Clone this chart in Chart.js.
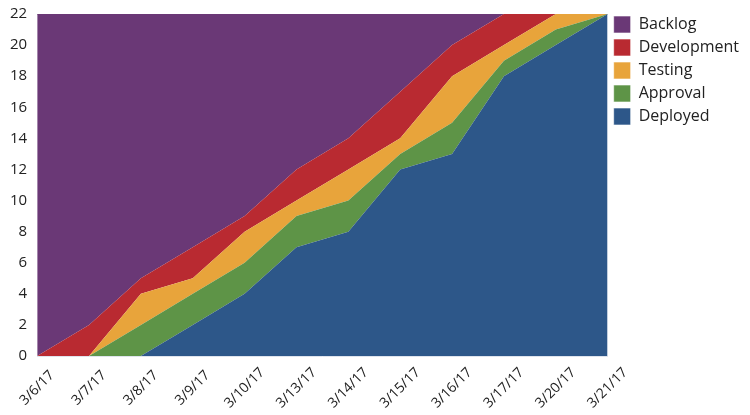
<!DOCTYPE html>
<html>
<head>
<meta charset="utf-8">
<script src="https://cdn.jsdelivr.net/npm/chart.js@4/dist/chart.umd.min.js"></script>
<style>
  html, body { margin: 0; padding: 0; background: #fff; }
  #wrap { width: 750px; height: 415px; }
</style>
</head>
<body>
<div id="wrap"><canvas id="c" width="750" height="415"></canvas></div>
<script>
// Cumulative flow: work items per stage on each day
const dates = ['3/6/17','3/7/17','3/8/17','3/9/17','3/10/17','3/13/17','3/14/17','3/15/17','3/16/17','3/17/17','3/20/17','3/21/17'];
const deployed    = [0, 0, 0, 2, 4, 7, 8, 12, 13, 18, 20, 22];
const approval    = [0, 0, 2, 2, 2, 2, 2, 1, 2, 1, 1, 0];
const testing     = [0, 0, 2, 1, 2, 1, 2, 1, 3, 1, 1, 0];
const development = [0, 2, 1, 2, 1, 2, 2, 3, 2, 2, 0, 0];
const backlog     = [22, 20, 17, 15, 13, 10, 8, 5, 2, 0, 0, 0];
const yTicks = [0, 2, 4, 6, 8, 10, 12, 14, 16, 18, 20, 22];

const colors = {
  Backlog: '#6a3876',
  Development: '#b92a31',
  Testing: '#e8a43b',
  Approval: '#5e9447',
  Deployed: '#2d5789'
};

// stacked bottom-up: Deployed first
const series = [
  ['Deployed', deployed],
  ['Approval', approval],
  ['Testing', testing],
  ['Development', development],
  ['Backlog', backlog]
];

const datasets = series.map(([name, vals], i) => ({
  label: name,
  data: vals,
  backgroundColor: colors[name],
  borderColor: colors[name],
  borderWidth: 0,
  pointRadius: 0,
  pointHoverRadius: 0,
  tension: 0,
  fill: i === 0 ? 'origin' : '-1'
}));

const FONT = '"Open Sans", "DejaVu Sans", sans-serif';
Chart.defaults.font.family = FONT;
Chart.defaults.color = '#222';

// date labels drawn centred under each point, rotated 45°
const xLabelPlugin = {
  id: 'xLabels',
  afterDraw(chart) {
    const { ctx } = chart;
    const xs = chart.scales.x;
    ctx.save();
    ctx.font = '14px ' + FONT;
    ctx.fillStyle = '#222';
    ctx.textAlign = 'center';
    ctx.textBaseline = 'middle';
    dates.forEach((d, i) => {
      const x = xs.getPixelForValue(i);
      ctx.save();
      ctx.translate(x, xs.top + 32);
      ctx.rotate(-Math.PI / 4);
      ctx.fillText(d, 0, 0);
      ctx.restore();
    });
    ctx.restore();
  }
};

// nudge the legend block down a little
const legendShift = {
  id: 'legendShift',
  afterLayout(chart) {
    if (chart.legend) { chart.legend.top += 10; chart.legend.bottom += 10; }
  }
};

new Chart(document.getElementById('c'), {
  type: 'line',
  data: { labels: dates, datasets },
  plugins: [xLabelPlugin, legendShift],
  options: {
    responsive: false,
    animation: false,
    layout: { padding: { left: 0, right: 1, top: 0, bottom: 0 } },
    plugins: {
      tooltip: { enabled: false },
      legend: {
        position: 'right',
        align: 'start',
        reverse: true,
        labels: {
          boxWidth: 17,
          boxHeight: 17,
          padding: 6,
          color: '#222',
          font: { size: 16 },
          generateLabels(chart) {
            const items = Chart.defaults.plugins.legend.labels.generateLabels(chart);
            items.forEach(it => { it.strokeStyle = 'rgba(255,255,255,0.6)'; it.lineWidth = 1; });
            return items;
          }
        }
      }
    },
    scales: {
      x: {
        offset: false,
        grid: { display: false, drawTicks: false },
        border: { display: true, color: 'rgba(220,225,235,0.9)', dash: [2, 1], width: 1 },
        ticks: { display: false },
        afterFit(scale) { scale.height = 59; }
      },
      y: {
        stacked: true,
        min: 0,
        max: 22,
        afterBuildTicks(axis) { axis.ticks = yTicks.map(v => ({ value: v })); },
        afterFit(scale) { scale.paddingTop = 14; scale.paddingBottom = 0; },
        grid: {
          drawTicks: false,
          color: ctx => (ctx.tick && ctx.tick.value === 22 ? '#b8b8c0' : 'rgba(0,0,0,0)')
        },
        border: { display: false },
        ticks: { padding: 10, font: { size: 15 }, color: '#222' }
      }
    }
  }
});
</script>
</body>
</html>
